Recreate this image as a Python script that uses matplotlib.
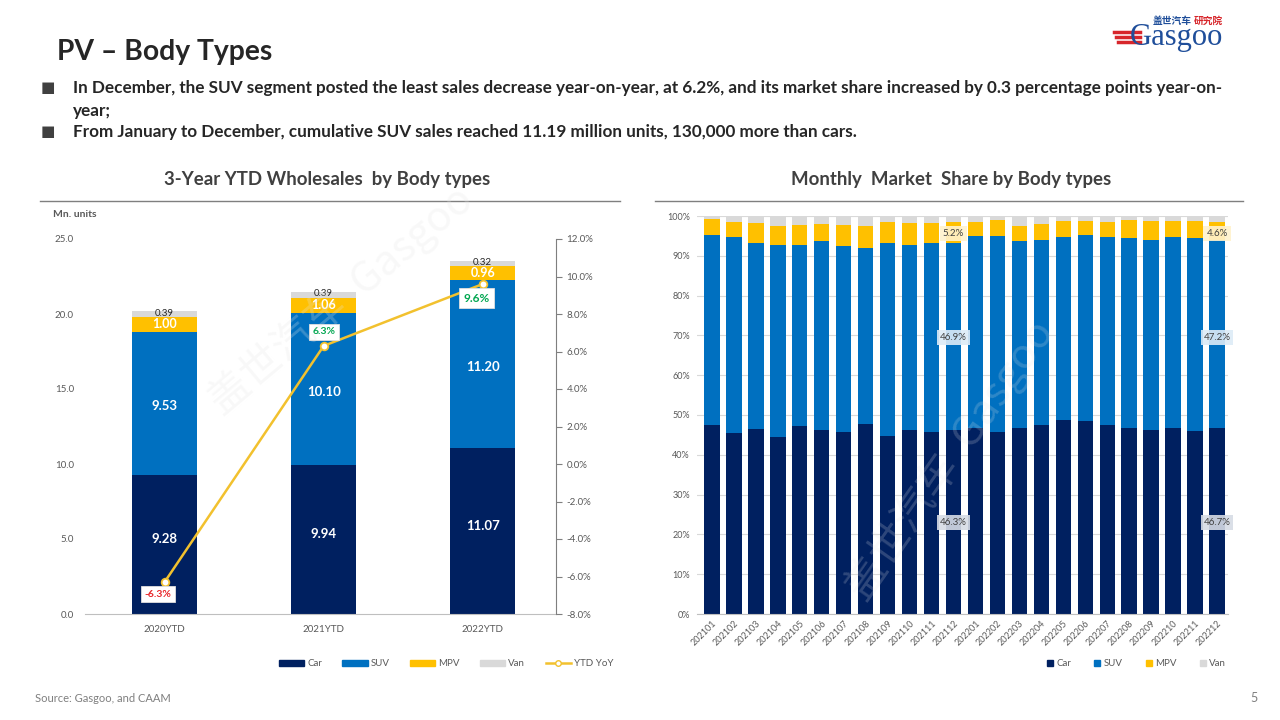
import numpy as np
import matplotlib.pyplot as plt
from matplotlib.lines import Line2D
from matplotlib.patches import Patch

plt.rcParams['font.family'] = ['Lato', 'Noto Sans CJK SC', 'DejaVu Sans']

# ---- data ----
years = ["2020YTD", "2021YTD", "2022YTD"]
car_ytd = [9.28, 9.94, 11.07]
suv_ytd = [9.53, 10.10, 11.20]
mpv_ytd = [1.00, 1.06, 0.96]
van_ytd = [0.39, 0.39, 0.32]
ytd_yoy = [-6.3, 6.3, 9.6]

months = ["202101", "202102", "202103", "202104", "202105", "202106",
          "202107", "202108", "202109", "202110", "202111", "202112",
          "202201", "202202", "202203", "202204", "202205", "202206",
          "202207", "202208", "202209", "202210", "202211", "202212"]
car_share = [47.6, 45.6, 46.4, 44.4, 47.3, 46.2, 45.8, 47.8, 44.6, 46.2, 45.7, 46.3,
             46.7, 45.8, 46.7, 47.6, 48.8, 48.4, 47.4, 46.7, 46.2, 46.7, 45.9, 46.7]
suv_share = [47.7, 49.1, 46.9, 48.4, 45.5, 47.5, 46.7, 44.2, 48.7, 46.5, 47.5, 46.9,
             48.3, 49.2, 47.0, 46.4, 46.0, 46.9, 47.3, 47.8, 47.8, 48.0, 48.6, 47.2]
mpv_share = [4.0, 3.8, 5.0, 4.8, 5.0, 4.3, 5.3, 5.5, 5.3, 5.5, 5.0, 5.2,
             3.5, 4.0, 3.8, 4.0, 4.0, 3.5, 3.8, 4.5, 4.8, 4.0, 4.3, 4.6]
van_share = [0.7, 1.5, 1.7, 2.4, 2.2, 2.0, 2.2, 2.5, 1.4, 1.8, 1.8, 1.6,
             1.5, 1.0, 2.5, 2.0, 1.2, 1.2, 1.5, 1.0, 1.2, 1.3, 1.2, 1.5]

C_CAR = "#002060"
C_SUV = "#0070C0"
C_MPV = "#FFC000"
C_VAN = "#D9D9D9"
C_LINE = "#F2C12E"
GRAY = "#7F7F7F"


def fx(x):
    return x / 1280


def fy(y):
    return 1 - y / 720


fig = plt.figure(figsize=(12.8, 7.2), dpi=100, facecolor="w")

# ---- header ----
fig.text(fx(57), fy(52), "PV – Body Types", fontsize=20.3, fontweight="bold",
         color="#262626", va="center", ha="left")
bullets = [(88, "In December, the SUV segment posted the least sales decrease year-on-year, at 6.2%, and its market share increased by 0.3 percentage points year-on-"),
           (111, "year;"),
           (132, "From January to December, cumulative SUV sales reached 11.19 million units, 130,000 more than cars.")]
for y, t in bullets:
    fig.text(fx(73), fy(y), t, fontsize=12.35, fontweight="bold", color="#262626",
             va="center", ha="left")
for y in (88, 132):
    fig.text(fx(48), fy(y), "■", fontsize=11, color="#404040", va="center", ha="center",
             family=["DejaVu Sans"])

# logo
fig.text(fx(1153), fy(21), "盖世汽车", fontsize=7, fontweight="bold", color="#1F4E9A",
         va="center", ha="left", family=["Noto Sans CJK SC"])
fig.text(fx(1194), fy(21), "研究院", fontsize=7, fontweight="bold", color="#D7262B",
         va="center", ha="left", family=["Noto Sans CJK SC"])
fig.text(fx(1130), fy(38), "Gasgoo", fontsize=22, color="#1F4E9A", va="center", ha="left",
         family=["Liberation Serif"])
for i, yy in enumerate((32, 37, 42)):
    fig.add_artist(Line2D([fx(1114 + i * 2), fx(1140)], [fy(yy), fy(yy)], color="#D7262B",
                          lw=2.5, transform=fig.transFigure))

# footer
fig.text(fx(35), fy(698), "Source: Gasgoo, and CAAM", fontsize=8, color=GRAY, va="center")
fig.text(fx(1254), fy(698), "5", fontsize=9, color=GRAY, va="center", ha="center")

# chart titles + rules
fig.text(fx(327), fy(179), "3-Year YTD Wholesales  by Body types", fontsize=13.4,
         fontweight="bold", color="#404040", ha="center", va="center")
fig.text(fx(951), fy(179), "Monthly  Market  Share by Body types", fontsize=13.4,
         fontweight="bold", color="#404040", ha="center", va="center")
fig.add_artist(Line2D([fx(40), fx(620)], [fy(201), fy(201)], color=GRAY, lw=1,
                      transform=fig.transFigure))
fig.add_artist(Line2D([fx(655), fx(1243)], [fy(201), fy(201)], color=GRAY, lw=1,
                      transform=fig.transFigure))
fig.text(fx(53), fy(214), "Mn. units", fontsize=7.5, fontweight="bold", color="#595959",
         va="center")

# ---- left chart ----
ax1 = fig.add_axes([fx(85), fy(614), fx(556 - 85), fy(239) - fy(614)])
x = np.arange(len(years))
w = 0.41
b1 = np.array(car_ytd)
b2 = b1 + np.array(suv_ytd)
b3 = b2 + np.array(mpv_ytd)
ax1.bar(x, car_ytd, w, color=C_CAR, label="Car", zorder=2)
ax1.bar(x, suv_ytd, w, bottom=b1, color=C_SUV, label="SUV", zorder=2)
ax1.bar(x, mpv_ytd, w, bottom=b2, color=C_MPV, label="MPV", zorder=2)
ax1.bar(x, van_ytd, w, bottom=b3, color=C_VAN, label="Van", zorder=2)
for i in range(len(years)):
    ax1.text(x[i], car_ytd[i] / 2 + 0.35, f"{car_ytd[i]:.2f}", color="w", fontsize=9.5,
             fontweight="bold", ha="center", va="center", zorder=5)
    ax1.text(x[i], b1[i] + suv_ytd[i] / 2 - 0.2, f"{suv_ytd[i]:.2f}", color="w", fontsize=9.5,
             fontweight="bold", ha="center", va="center", zorder=5)
    ax1.text(x[i], b2[i] + mpv_ytd[i] / 2, f"{mpv_ytd[i]:.2f}", color="w", fontsize=9,
             fontweight="bold", ha="center", va="center", zorder=5)
    ax1.text(x[i], b3[i] + van_ytd[i] / 2 + 0.05, f"{van_ytd[i]:.2f}", color="#262626",
             fontsize=7, ha="center", va="center", zorder=5)
ax1.set_xlim(-0.5, 2.46)
ax1.set_ylim(0, 25)
ax1.set_yticks(np.arange(0, 25.1, 5))
ax1.set_yticklabels([f"{v:.1f}" for v in np.arange(0, 25.1, 5)])
ax1.set_xticks(x)
ax1.set_xticklabels(years)
ax1.tick_params(axis="both", length=0, labelsize=7, labelcolor="#595959", pad=8)
ax1.tick_params(axis="y", pad=8)
for s in ("top", "right", "left"):
    ax1.spines[s].set_visible(False)
ax1.spines["bottom"].set_color("#BFBFBF")

ax2 = ax1.twinx()
ax2.plot(x, ytd_yoy, color=C_LINE, lw=1.8, marker="o", ms=5.5, mfc="w", mec=C_LINE,
         mew=1.3, zorder=6, label="YTD YoY")
ax2.set_ylim(-8, 12)
ax2.set_yticks(np.arange(-8, 12.1, 2))
ax2.set_yticklabels([f"{v:.1f}%" for v in np.arange(-8, 12.1, 2)])
ax2.tick_params(axis="y", length=4, color=GRAY, labelsize=7, labelcolor="#595959")
for s in ("top", "left", "bottom"):
    ax2.spines[s].set_visible(False)
ax2.spines["right"].set_color(GRAY)
lab_dx = [-0.04, 0.0, -0.04]
lab_dy = [-0.65, 0.75, -0.75]
lab_col = ["#E8262A", "#00A650", "#00A650"]
for i in range(len(years)):
    ax2.text(x[i] + lab_dx[i], ytd_yoy[i] + lab_dy[i], f"{ytd_yoy[i]:.1f}%",
             color=lab_col[i], fontsize=7.5 if i < 2 else 8.5, fontweight="bold",
             ha="center", va="center", zorder=7,
             bbox=dict(boxstyle="square,pad=0.35", fc="w", ec="#E0E0E0", lw=0.6))

handles = [Patch(color=C_CAR), Patch(color=C_SUV), Patch(color=C_MPV), Patch(color=C_VAN),
           Line2D([], [], color=C_LINE, lw=1.8, marker="o", ms=4, mfc="w", mec=C_LINE)]
fig.legend(handles, ["Car", "SUV", "MPV", "Van", "YTD YoY"], loc="center",
           bbox_to_anchor=(fx(446), fy(664)), ncol=5, frameon=False, fontsize=7,
           labelcolor="#595959", handlelength=2.6, handleheight=0.45, columnspacing=2.1,
           handletextpad=0.3)

# ---- right chart ----
ax3 = fig.add_axes([fx(697), fy(614), fx(1228 - 697), fy(216) - fy(614)])
xm = np.arange(len(months))
wm = 0.7
c1 = np.array(car_share)
c2 = c1 + np.array(suv_share)
c3 = c2 + np.array(mpv_share)
ax3.bar(xm, car_share, wm, color=C_CAR, label="Car", zorder=2)
ax3.bar(xm, suv_share, wm, bottom=c1, color=C_SUV, label="SUV", zorder=2)
ax3.bar(xm, mpv_share, wm, bottom=c2, color=C_MPV, label="MPV", zorder=2)
ax3.bar(xm, van_share, wm, bottom=c3, color=C_VAN, label="Van", zorder=2)
for i in (11, 23):
    ax3.text(xm[i], 23, f"{car_share[i]:.1f}%", fontsize=7, color="#404040", ha="center",
             va="center", zorder=5,
             bbox=dict(boxstyle="square,pad=0.3", fc="#D6DCE5", ec="none", alpha=0.9))
    ax3.text(xm[i], 69.5, f"{suv_share[i]:.1f}%", fontsize=7, color="#404040", ha="center",
             va="center", zorder=5,
             bbox=dict(boxstyle="square,pad=0.3", fc="#DDEBF7", ec="none", alpha=0.9))
    ax3.text(xm[i], 95.5, f"{mpv_share[i]:.1f}%", fontsize=7, color="#404040", ha="center",
             va="center", zorder=5,
             bbox=dict(boxstyle="square,pad=0.3", fc="#FFF2CC", ec="none", alpha=0.9))
ax3.set_xlim(-0.68, 23.5)
ax3.set_ylim(0, 100)
ax3.set_yticks(np.arange(0, 101, 10))
ax3.set_yticklabels([f"{v}%" for v in range(0, 101, 10)])
ax3.set_xticks(xm)
ax3.set_xticklabels(months, rotation=45, ha="right", rotation_mode="anchor")
ax3.tick_params(axis="both", length=0, labelsize=6.5, labelcolor="#595959")
ax3.tick_params(axis="y", pad=5)
ax3.grid(axis="y", color="#D9D9D9", lw=0.8, zorder=0)
for s in ("top", "right", "left"):
    ax3.spines[s].set_visible(False)
ax3.spines["bottom"].set_color("#BFBFBF")
h4 = [Line2D([], [], color=c, marker="s", ls="none", ms=5) for c in (C_CAR, C_SUV, C_MPV, C_VAN)]
fig.legend(h4, ["Car", "SUV", "MPV", "Van"], loc="center", bbox_to_anchor=(fx(1136), fy(664)),
           ncol=4, frameon=False, fontsize=7, labelcolor="#595959", handlelength=0.8,
           columnspacing=2.3, handletextpad=0.25)

# faint watermarks
fig.text(fx(340), fy(300), "盖世汽车  Gasgoo", fontsize=30, color="#E6E6E6", alpha=0.25,
         rotation=40, ha="center", va="center", zorder=10, family=["Noto Sans CJK SC"])
fig.text(fx(950), fy(460), "盖世汽车  Gasgoo", fontsize=30, color="#E6E6E6", alpha=0.2,
         rotation=55, ha="center", va="center", zorder=10, family=["Noto Sans CJK SC"])

fig.savefig("out.png", dpi=100, facecolor="w")
